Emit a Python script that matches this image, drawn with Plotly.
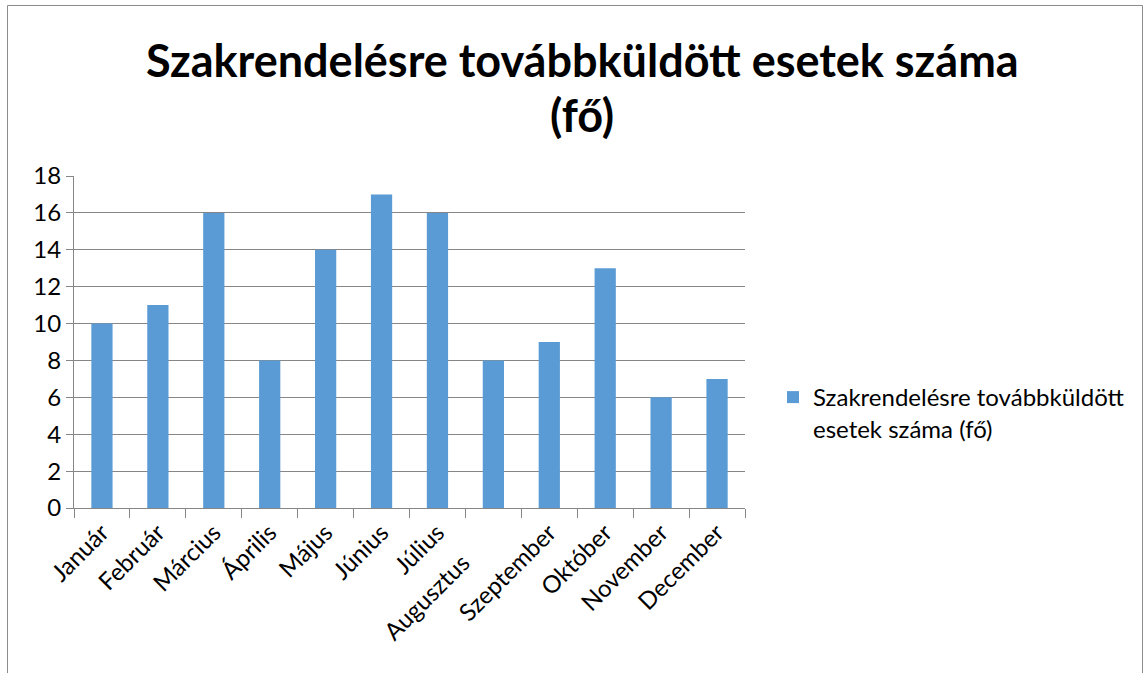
import plotly.graph_objects as go

months = ["Január", "Február", "Március", "Április", "Május", "Június",
          "Július", "Augusztus", "Szeptember", "Október", "November", "December"]
values = [10, 11, 16, 8, 14, 17, 16, 8, 9, 13, 6, 7]
tick_labels = [m if m != "Augusztus" else "Augusztus" + "\u00a0" * 7 for m in months]
series_name = "Szakrendelésre továbbküldött<br>esetek száma (fő)"
title_lines = ["Szakrendelésre továbbküldött esetek száma", "(fő)"]
y_ticks = [0, 2, 4, 6, 8, 10, 12, 14, 16, 18]

FONT = "Lato"
GRID = "#868686"

fig = go.Figure()
fig.add_trace(go.Bar(
    x=months, y=values, name=series_name,
    marker=dict(color="#5B9BD5", line=dict(width=0)),
    width=0.38, showlegend=True,
))

L, R, T, B = 74, 745, 176, 508
W, H = 1144, 673
pw, ph = R - L, B - T

title_y = [60, 115]
annotations = [
    dict(text=t, xref="paper", yref="paper", x=(582 - L) / pw, y=(B - yy) / ph,
         xanchor="center", yanchor="middle", showarrow=False,
         font=dict(family=FONT, size=45, color="#000000", weight="bold"))
    for t, yy in zip(title_lines, title_y)
]

fig.update_layout(
    width=W, height=H,
    margin=dict(l=L, r=W - R, t=T, b=H - B, autoexpand=False),
    paper_bgcolor="white", plot_bgcolor="white",
    font=dict(family=FONT, size=24, color="#000000"),
    annotations=annotations,
    showlegend=True,
    legend=dict(x=(773 - L) / pw, xanchor="left", y=(B - 413) / ph, yanchor="middle",
                font=dict(family=FONT, size=24, color="#000000"), valign="top",
                itemwidth=30, bgcolor="rgba(0,0,0,0)"),
    shapes=[dict(type="rect", xref="paper", yref="paper",
                 x0=(7.5 - L) / pw, x1=(1142.5 - L) / pw,
                 y0=-1.0, y1=(B - 5.5) / ph,
                 line=dict(color="#8C8C8C", width=1), fillcolor="rgba(0,0,0,0)", layer="below")],
)

fig.update_xaxes(
    type="category", tickvals=months, ticktext=tick_labels, tickangle=-45,
    showline=True, linecolor=GRID, linewidth=1,
    ticks="outside", tickson="boundaries", ticklen=9, tickcolor=GRID, tickwidth=1,
    showgrid=False, tickfont=dict(family=FONT, size=24, color="#000000"),
    range=[-0.5, 11.5],
)
fig.update_yaxes(
    range=[0, 18], tickvals=y_ticks, showgrid=True, gridcolor=GRID, gridwidth=1,
    showline=True, linecolor=GRID, linewidth=1,
    ticks="outside", ticklen=7, tickcolor=GRID, tickwidth=1,
    tickfont=dict(family=FONT, size=24, color="#000000"), zeroline=False,
)

fig.write_html("out.html", config={"displayModeBar": False},
               post_script="document.body.style.margin='0px';")
